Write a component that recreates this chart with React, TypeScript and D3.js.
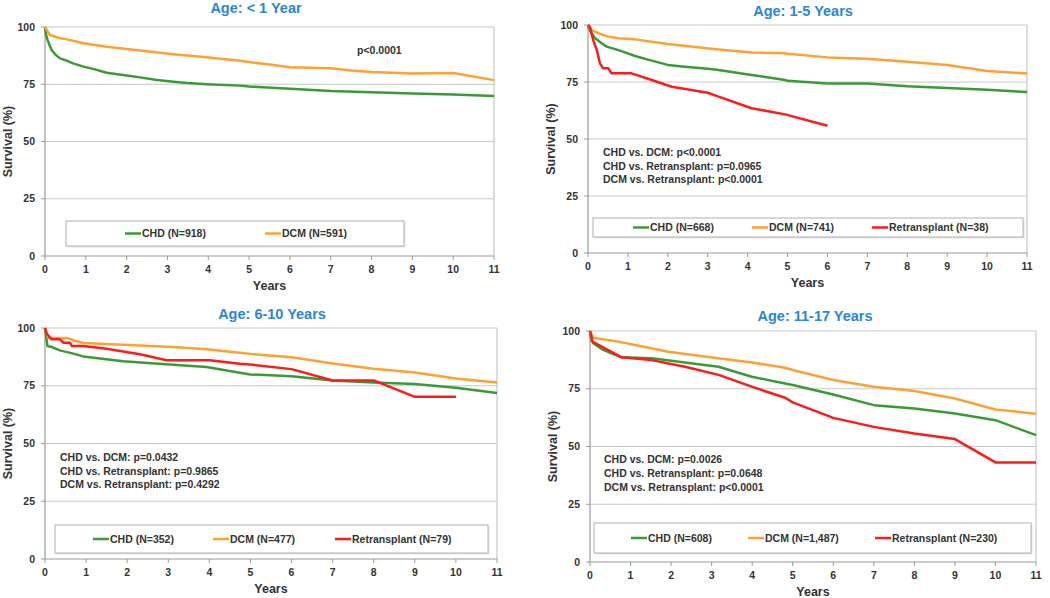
import React from "react";
import * as d3 from "d3";

// ---------- DATA ----------
const yearTicks = [0, 1, 2, 3, 4, 5, 6, 7, 8, 9, 10, 11];
const survivalTicks = [0, 25, 50, 75, 100];

// Panel 1: Age < 1 Year
const p1ChdYears = [0, 0.03, 0.06, 0.1, 0.165, 0.25, 0.37, 0.5, 0.69, 0.94, 1.2, 1.51, 2, 2.33, 2.7, 3.14, 3.5, 3.95, 4.78, 5, 6, 7, 8, 9, 10, 11];
const p1ChdValues = [100, 96.5, 94.5, 92.5, 90, 88, 86.3, 85.5, 84.1, 82.7, 81.6, 80, 78.8, 78, 77, 76.1, 75.5, 75, 74.4, 74, 73, 72, 71.5, 71, 70.5, 69.9];
const p1DcmYears = [0, 0.05, 0.12, 0.37, 0.5, 0.69, 0.94, 1.51, 2.33, 3.14, 3.95, 4.78, 5, 5.5, 6, 7, 7.5, 8, 9, 10, 11];
const p1DcmValues = [100, 98.5, 96.5, 95.1, 94.7, 94.0, 92.9, 91.4, 89.7, 88.1, 86.8, 85.3, 84.7, 83.6, 82.4, 82, 81, 80.4, 79.7, 79.9, 76.8];

// Panel 2: Age 1-5 Years
const p2ChdYears = [0, 0.04, 0.09, 0.18, 0.34, 0.47, 0.76, 0.93, 1.18, 1.5, 2, 2.42, 3.0, 3.27, 4.1, 4.94, 5, 6, 7, 8, 9, 10, 11];
const p2ChdValues = [100, 98, 96.4, 94.2, 92, 90.5, 89, 88, 86.4, 84.8, 82.5, 81.7, 80.8, 80.3, 78.1, 75.9, 75.5, 74.3, 74.3, 73.1, 72.4, 71.6, 70.6];
const p2DcmYears = [0, 0.09, 0.26, 0.51, 0.76, 1.18, 2.0, 3.27, 4.1, 4.94, 5, 6, 7, 8, 9, 10, 11];
const p2DcmValues = [100, 97.8, 96.4, 94.9, 94.2, 93.7, 91.7, 89.3, 87.9, 87.6, 87.4, 85.8, 85.2, 83.9, 82.5, 79.8, 78.7];
const p2RetxYears = [0, 0.05, 0.13, 0.22, 0.3, 0.38, 0.51, 0.59, 1.09, 1.6, 2.1, 3.0, 3.27, 4.1, 4.94, 6];
const p2RetxValues = [100, 99, 93.4, 89, 83.2, 81, 81, 78.8, 78.8, 75.9, 72.9, 70.3, 68.6, 63.5, 60.8, 55.8];

// Panel 3: Age 6-10 Years
const p3ChdYears = [0, 0.06, 0.16, 0.36, 0.69, 0.93, 1.9, 3.12, 3.93, 4.74, 5, 6, 7, 8, 9, 10, 11];
const p3ChdValues = [100, 92.2, 91.8, 90.3, 88.9, 87.7, 85.6, 84.1, 83.1, 80.6, 79.9, 79.1, 77.3, 76.4, 75.8, 74.1, 71.9];
const p3DcmYears = [0, 0.08, 0.53, 0.69, 0.93, 1.9, 3.12, 3.93, 4.74, 5, 6, 7, 8, 9, 10, 11];
const p3DcmValues = [100, 95.7, 95.7, 94.7, 93.5, 92.8, 91.8, 90.8, 89.3, 88.8, 87.3, 84.6, 82.4, 80.7, 78.1, 76.4];
const p3RetxYears = [0, 0.04, 0.16, 0.36, 0.45, 0.61, 0.65, 0.93, 1.5, 2.31, 2.96, 4.01, 4.74, 5, 6, 7, 8, 9, 10];
const p3RetxValues = [100, 97.6, 95.1, 95.1, 93.6, 93.6, 92.2, 92.2, 91, 88.6, 86, 86, 84.5, 84.2, 82.2, 77.3, 77.3, 70.2, 70.2];

// Panel 4: Age 11-17 Years
const p4ChdYears = [0, 0.04, 0.08, 0.29, 0.53, 0.78, 1.52, 2.34, 3.17, 3.99, 4.81, 5, 6, 7, 8, 9, 10, 11];
const p4ChdValues = [100, 96, 94.7, 92.2, 90.3, 88.6, 88.2, 86.4, 84.5, 80.2, 77.3, 76.6, 72.5, 67.9, 66.5, 64.3, 61.4, 54.9];
const p4DcmYears = [0, 0.08, 0.7, 1.11, 1.93, 3.17, 3.99, 4.81, 5, 6, 7, 8, 9, 10, 11];
const p4DcmValues = [100, 97.1, 95.4, 93.9, 91.0, 88.2, 86.4, 84.1, 83.1, 78.8, 75.9, 74, 70.8, 66, 64.2];
const p4RetxYears = [0, 0.03, 0.06, 0.29, 0.78, 1.52, 2.34, 3.17, 3.99, 4.81, 5, 6, 7, 8, 9, 10, 11];
const p4RetxValues = [100, 98, 95.4, 93.2, 88.6, 87.4, 84.5, 81, 75.9, 71.1, 69.1, 62.4, 58.5, 55.6, 53.2, 43.1, 43.1];

const titles = ["Age: < 1 Year", "Age: 1-5 Years", "Age: 6-10 Years", "Age: 11-17 Years"];
const p1Legend = ["CHD (N=918)", "DCM (N=591)"];
const p2Legend = ["CHD (N=668)", "DCM (N=741)", "Retransplant (N=38)"];
const p3Legend = ["CHD (N=352)", "DCM (N=477)", "Retransplant (N=79)"];
const p4Legend = ["CHD (N=608)", "DCM (N=1,487)", "Retransplant (N=230)"];
const p1Stats = ["p<0.0001"];
const p2Stats = ["CHD vs. DCM: p<0.0001", "CHD vs. Retransplant: p=0.0965", "DCM vs. Retransplant: p<0.0001"];
const p3Stats = ["CHD vs. DCM: p=0.0432", "CHD vs. Retransplant: p=0.9865", "DCM vs. Retransplant: p=0.4292"];
const p4Stats = ["CHD vs. DCM: p=0.0026", "CHD vs. Retransplant: p=0.0648", "DCM vs. Retransplant: p<0.0001"];

// ---------- STYLE ----------
const GREEN = "#3a9a35";
const ORANGE = "#ffa033";
const RED = "#ff1a1a";
const BLUE = "#2a86d6";
const TEXT = "#333333";
const FONT = "'Liberation Sans', Arial, Helvetica, sans-serif";

type Series = { years: number[]; values: number[]; color: string; label: string };
type Panel = {
  title: string;
  x0: number; x1: number; yTop: number; yBot: number;
  titleX: number; titleY: number;
  series: Series[];
  legend: { x: number; y: number; w: number; h: number; items: { x: number }[] };
  stats: string[]; statsX: number; statsY: number; statsGap: number;
};

const mk = (years: number[], values: number[], color: string, label: string): Series => ({ years, values, color, label });

const panels: Panel[] = [
  {
    title: titles[0], x0: 45, x1: 494, yTop: 27, yBot: 256, titleX: 256, titleY: 13,
    series: [mk(p1ChdYears, p1ChdValues, GREEN, p1Legend[0]), mk(p1DcmYears, p1DcmValues, ORANGE, p1Legend[1])],
    legend: { x: 66, y: 221, w: 338, h: 25, items: [{ x: 125 }, { x: 265 }] },
    stats: p1Stats, statsX: 357, statsY: 54, statsGap: 0,
  },
  {
    title: titles[1], x0: 588, x1: 1027, yTop: 25, yBot: 253, titleX: 803, titleY: 16,
    series: [mk(p2ChdYears, p2ChdValues, GREEN, p2Legend[0]), mk(p2DcmYears, p2DcmValues, ORANGE, p2Legend[1]), mk(p2RetxYears, p2RetxValues, RED, p2Legend[2])],
    legend: { x: 593, y: 218, w: 430, h: 19, items: [{ x: 633 }, { x: 752 }, { x: 872 }] },
    stats: p2Stats, statsX: 603, statsY: 156, statsGap: 13.5,
  },
  {
    title: titles[2], x0: 45, x1: 497, yTop: 328, yBot: 559, titleX: 272, titleY: 319,
    series: [mk(p3ChdYears, p3ChdValues, GREEN, p3Legend[0]), mk(p3DcmYears, p3DcmValues, ORANGE, p3Legend[1]), mk(p3RetxYears, p3RetxValues, RED, p3Legend[2])],
    legend: { x: 55, y: 525, w: 433, h: 28, items: [{ x: 93 }, { x: 213 }, { x: 335 }] },
    stats: p3Stats, statsX: 60, statsY: 461, statsGap: 13.7,
  },
  {
    title: titles[3], x0: 590, x1: 1036, yTop: 331, yBot: 562, titleX: 815, titleY: 321,
    series: [mk(p4ChdYears, p4ChdValues, GREEN, p4Legend[0]), mk(p4DcmYears, p4DcmValues, ORANGE, p4Legend[1]), mk(p4RetxYears, p4RetxValues, RED, p4Legend[2])],
    legend: { x: 594, y: 523, w: 437, h: 30, items: [{ x: 631 }, { x: 748 }, { x: 875 }] },
    stats: p4Stats, statsX: 604, statsY: 463, statsGap: 13.9,
  },
];

function PanelView({ p }: { p: Panel }) {
  const x = d3.scaleLinear().domain([0, 11]).range([p.x0, p.x1]);
  const y = d3.scaleLinear().domain([0, 100]).range([p.yBot, p.yTop]);
  const line = d3.line<[number, number]>().x((d) => x(d[0])).y((d) => y(d[1]));
  const midY = (p.yTop + p.yBot) / 2;
  const midX = (p.x0 + p.x1) / 2;
  const ly = p.legend.y + p.legend.h / 2;
  return (
    <g>
      <text x={p.titleX} y={p.titleY} textAnchor="middle" fill={BLUE} fontSize={14.5} fontWeight="bold">{p.title}</text>
      {/* grid */}
      {survivalTicks.filter((t) => t > 0).map((t) => (
        <line key={t} x1={p.x0} x2={p.x1} y1={y(t)} y2={y(t)} stroke="#c8c8c8" strokeWidth={1.2} />
      ))}
      {/* frame right */}
      <line x1={p.x1} x2={p.x1} y1={p.yTop} y2={p.yBot} stroke="#c8c8c8" strokeWidth={1.2} />
      {/* axes */}
      <line x1={p.x0} x2={p.x0} y1={p.yTop} y2={p.yBot} stroke="#9a9a9a" strokeWidth={1.2} />
      <line x1={p.x0} x2={p.x1} y1={p.yBot} y2={p.yBot} stroke="#9a9a9a" strokeWidth={1.2} />
      {survivalTicks.map((t) => (
        <g key={t}>
          <line x1={p.x0 - 4} x2={p.x0} y1={y(t)} y2={y(t)} stroke="#9a9a9a" strokeWidth={1} />
          <text x={p.x0 - 10} y={y(t) + 3.7} textAnchor="end" fontSize={10.5} fontWeight="bold" fill={TEXT}>{t}</text>
        </g>
      ))}
      {yearTicks.map((t) => (
        <g key={t}>
          <line x1={x(t)} x2={x(t)} y1={p.yBot} y2={p.yBot + 4} stroke="#9a9a9a" strokeWidth={1} />
          <text x={x(t)} y={p.yBot + 17} textAnchor="middle" fontSize={10.5} fontWeight="bold" fill={TEXT}>{t}</text>
        </g>
      ))}
      <text x={midX} y={p.yBot + 34} textAnchor="middle" fontSize={12.5} fontWeight="bold" fill={TEXT}>Years</text>
      <text transform={`translate(${p.x0 - 33},${midY}) rotate(-90)`} textAnchor="middle" fontSize={12.5} fontWeight="bold" fill={TEXT}>Survival (%)</text>
      {/* stats */}
      {p.stats.map((s, i) => (
        <text key={s} x={p.statsX} y={p.statsY + i * p.statsGap} fontSize={10.5} fontWeight="bold" fill={TEXT}>{s}</text>
      ))}
      {/* legend */}
      <rect x={p.legend.x + 1.5} y={p.legend.y + 1.5} width={p.legend.w} height={p.legend.h} fill="#e4e4e4" />
      <rect x={p.legend.x} y={p.legend.y} width={p.legend.w} height={p.legend.h} fill="#ffffff" stroke="#b0b0b0" strokeWidth={1} />
      {p.series.map((s, i) => (
        <g key={s.label}>
          <line x1={p.legend.items[i].x} x2={p.legend.items[i].x + 16} y1={ly} y2={ly} stroke={s.color} strokeWidth={2.5} />
          <text x={p.legend.items[i].x + 17} y={ly + 3.7} fontSize={10.5} fontWeight="bold" fill={TEXT}>{s.label}</text>
        </g>
      ))}
      {/* curves */}
      {p.series.map((s) => (
        <path key={s.label} d={line(s.years.map((yr, i) => [yr, s.values[i]] as [number, number])) || ""} fill="none" stroke={s.color} strokeWidth={2.5} strokeLinejoin="round" />
      ))}
    </g>
  );
}

export default function App() {
  return (
    <svg width={1050} height={598} style={{ position: "absolute", left: 0, top: 0, background: "#fff" }} fontFamily={FONT}>
      <rect x={0} y={0} width={1050} height={598} fill="#ffffff" />
      {panels.map((p) => (
        <PanelView key={p.title} p={p} />
      ))}
    </svg>
  );
}
